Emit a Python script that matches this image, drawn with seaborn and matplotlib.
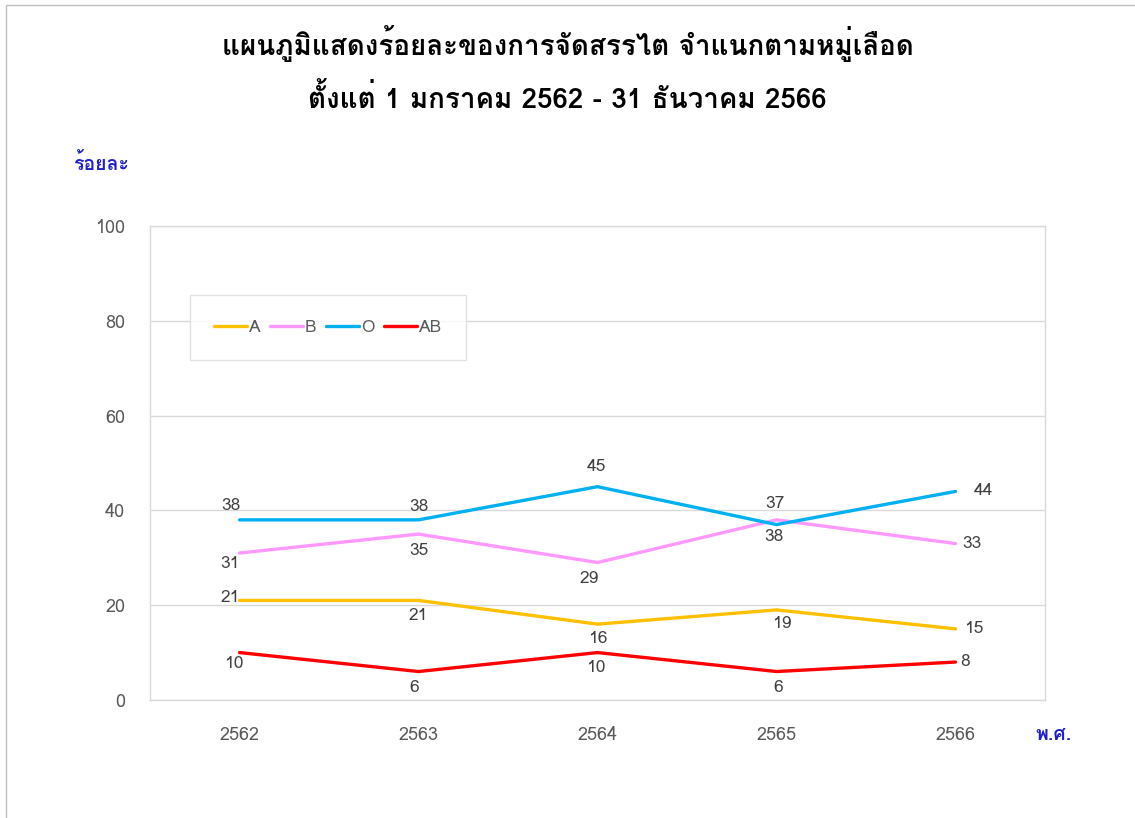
import matplotlib
matplotlib.use("Agg")
import matplotlib.pyplot as plt
from matplotlib import font_manager
from matplotlib.ft2font import FT2Font
from matplotlib.patches import Rectangle
import pandas as pd
import seaborn as sns


YEARS = ["2562", "2563", "2564", "2565", "2566"]
GROUPS = ["A", "B", "O", "AB"]
A_VALUES = [21, 21, 16, 19, 15]
B_VALUES = [31, 35, 29, 38, 33]
O_VALUES = [38, 38, 45, 37, 44]
AB_VALUES = [10, 6, 10, 6, 8]

TITLE = "แผนภูมิแสดงร้อยละของการจัดสรรไต จำแนกตามหมู่เลือด\nตั้งแต่ 1 มกราคม 2562 - 31 ธันวาคม 2566"
Y_LABEL = "ร้อยละ"
X_LABEL = "พ.ศ."

COLORS = {"A": "#FFC000", "B": "#FF99FF", "O": "#00B0F0", "AB": "#FF0000"}
TEXT_GRAY = "#595959"
LABEL_GRAY = "#404040"
GRID_GRAY = "#D9D9D9"
AXIS_BLUE = "#1F1FCC"

# where each data label sits relative to its point (dx, dy in points)
LABEL_OFFSETS = {
    "A": [(-7, 2), (0, -11), (0, -11), (4, -10), (13, 0)],
    "B": [(-7, -8), (0, -12), (-6, -12), (-2, -12), (12, 0)],
    "O": [(-6, 10), (0, 9), (-1, 14), (-1, 15), (20, 0)],
    "AB": [(-4, -8), (-3, -12), (-1, -11), (1, -12), (7, 0)],
}


def find_thai_font():
    for entry in font_manager.fontManager.ttflist:
        try:
            font = FT2Font(entry.fname)
            if font.get_char_index(ord("ก")) and font.get_char_index(ord("1")):
                return entry.name
        except Exception:
            continue
    return "DejaVu Sans"


sns.set_theme(style="white")
thai_font = find_thai_font()
plt.rcParams["font.family"] = [thai_font, "DejaVu Sans"]

frame = pd.DataFrame({
    "pos": list(range(len(YEARS))) * len(GROUPS),
    "group": [g for g in GROUPS for _ in YEARS],
    "value": A_VALUES + B_VALUES + O_VALUES + AB_VALUES,
})

fig = plt.figure(figsize=(11.35, 8.18), dpi=100)
ax = fig.add_axes([0.1322, 0.1443, 0.7885, 0.5794])

sns.lineplot(
    data=frame, x="pos", y="value", hue="group", hue_order=GROUPS,
    palette=COLORS, linewidth=2.4, ax=ax, legend=True,
)

ax.set_xlim(-0.5, len(YEARS) - 0.5)
ax.set_ylim(0, 100)
ax.set_yticks([0, 20, 40, 60, 80, 100])
ax.set_xticks(range(len(YEARS)))
ax.set_xticklabels(YEARS)
ax.set_xlabel("")
ax.set_ylabel("")
ax.tick_params(axis="both", length=0, labelsize=13, colors=TEXT_GRAY)
ax.tick_params(axis="y", pad=18)
ax.tick_params(axis="x", pad=19)
ax.yaxis.grid(True, color=GRID_GRAY, linewidth=1)
ax.set_axisbelow(True)
for spine in ax.spines.values():
    spine.set_color(GRID_GRAY)
    spine.set_linewidth(1)

for group in GROUPS:
    sub = frame[frame["group"] == group]
    for (pos, value), (dx, dy) in zip(sub[["pos", "value"]].values, LABEL_OFFSETS[group]):
        ax.annotate(
            f"{value}", (pos, value), xytext=(dx, dy), textcoords="offset points",
            ha="center", va="center", fontsize=12.5, color=LABEL_GRAY,
        )

handles, labels = ax.get_legend_handles_labels()
leg = ax.legend(
    handles, labels, loc="upper left", bbox_to_anchor=(0.0447, 0.854), ncol=4,
    frameon=True, fancybox=False, fontsize=12.5, handlelength=1.9,
    handletextpad=0.1, columnspacing=0.55, borderpad=1.4, borderaxespad=0,
    labelcolor=TEXT_GRAY,
)
leg.get_frame().set_edgecolor(GRID_GRAY)
leg.get_frame().set_linewidth(1)

fig.text(0.5, 0.916, TITLE, ha="center", va="center", fontsize=20, fontweight="bold",
         color="black", linespacing=1.85)
fig.text(0.089, 0.80, Y_LABEL, ha="center", va="center", fontsize=14, fontweight="bold",
         color=AXIS_BLUE)
fig.text(0.928, 0.101, X_LABEL, ha="center", va="center", fontsize=14, fontweight="bold",
         color=AXIS_BLUE)

fig.patches.append(Rectangle((0.005, -0.01), 1.0, 1.004, transform=fig.transFigure,
                             fill=False, edgecolor="#BFBFBF", linewidth=1))

fig.savefig("out.png", dpi=100)
